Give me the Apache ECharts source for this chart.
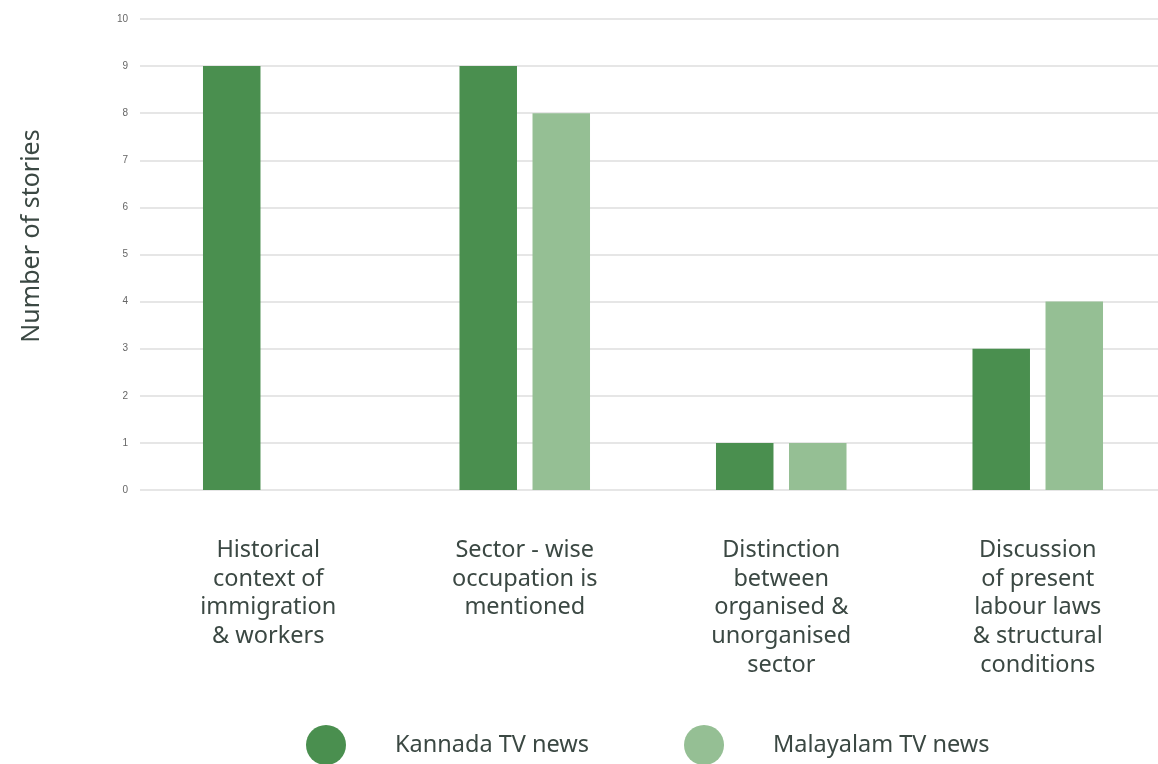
<!DOCTYPE html>
<html>
<head>
<meta charset="utf-8">
<script src="https://cdn.jsdelivr.net/npm/echarts@6/dist/echarts.min.js"></script>
<style>
  html, body { margin: 0; padding: 0; background: #ffffff; overflow: hidden; }
  /* the plot runs slightly past the right edge of the page */
  #chart { width: 1166px; height: 764px; }
</style>
</head>
<body>
<div id="chart"></div>
<script>
// Story counts per coverage theme, by channel group
const categories = [
  'Historical\ncontext of\nimmigration\n& workers',
  'Sector - wise\noccupation is\nmentioned',
  'Distinction\nbetween\norganised &\nunorganised\nsector',
  'Discussion\nof present\nlabour laws\n& structural\nconditions'
];
const kannadaValues = [9, 9, 1, 3];
const malayalamValues = [0, 8, 1, 4];
const seriesNames = ['Kannada TV news', 'Malayalam TV news'];
const yAxisTitle = 'Number of stories';

const textColor = '#3b4843';
const fontFamily = '"Noto Sans", "Open Sans", sans-serif';

const chart = echarts.init(document.getElementById('chart'));
chart.setOption({
  backgroundColor: '#ffffff',
  animation: false,
  grid: { left: 140, top: 19, right: 0, height: 471 },
  xAxis: {
    type: 'category',
    data: categories,
    axisLine: { show: false },
    axisTick: { show: false },
    axisLabel: {
      interval: 0,
      margin: 46,
      color: textColor,
      fontFamily: fontFamily,
      fontSize: 23.5,
      lineHeight: 28.7,
      align: 'center',
      verticalAlign: 'top'
    }
  },
  yAxis: {
    type: 'value',
    min: 0,
    max: 10,
    interval: 1,
    axisLine: { show: false },
    axisTick: { show: false },
    axisLabel: { color: '#666666', fontSize: 10, margin: 12, fontFamily: 'Arial, sans-serif' },
    splitLine: { lineStyle: { color: '#e6e6e6', width: 2 } }
  },
  legend: {
    left: 301,
    top: 720,
    itemWidth: 40,
    itemHeight: 40,
    itemGap: 95,
    icon: 'circle',
    data: seriesNames,
    textStyle: {
      color: textColor,
      fontFamily: fontFamily,
      fontSize: 23.5,
      padding: [0, 0, 0, 44]
    }
  },
  graphic: [{
    type: 'text',
    x: 32,
    y: 236,
    rotation: Math.PI / 2,
    style: {
      text: yAxisTitle,
      fill: textColor,
      font: '25px ' + fontFamily,
      textAlign: 'center',
      textVerticalAlign: 'middle'
    }
  }],
  series: [
    {
      name: seriesNames[0],
      type: 'bar',
      data: kannadaValues,
      barWidth: 57.5,
      barGap: '27%',
      itemStyle: { color: '#4a8f4f' }
    },
    {
      name: seriesNames[1],
      type: 'bar',
      data: malayalamValues,
      barWidth: 57.5,
      itemStyle: { color: '#95bf94' }
    }
  ]
});
</script>
</body>
</html>
